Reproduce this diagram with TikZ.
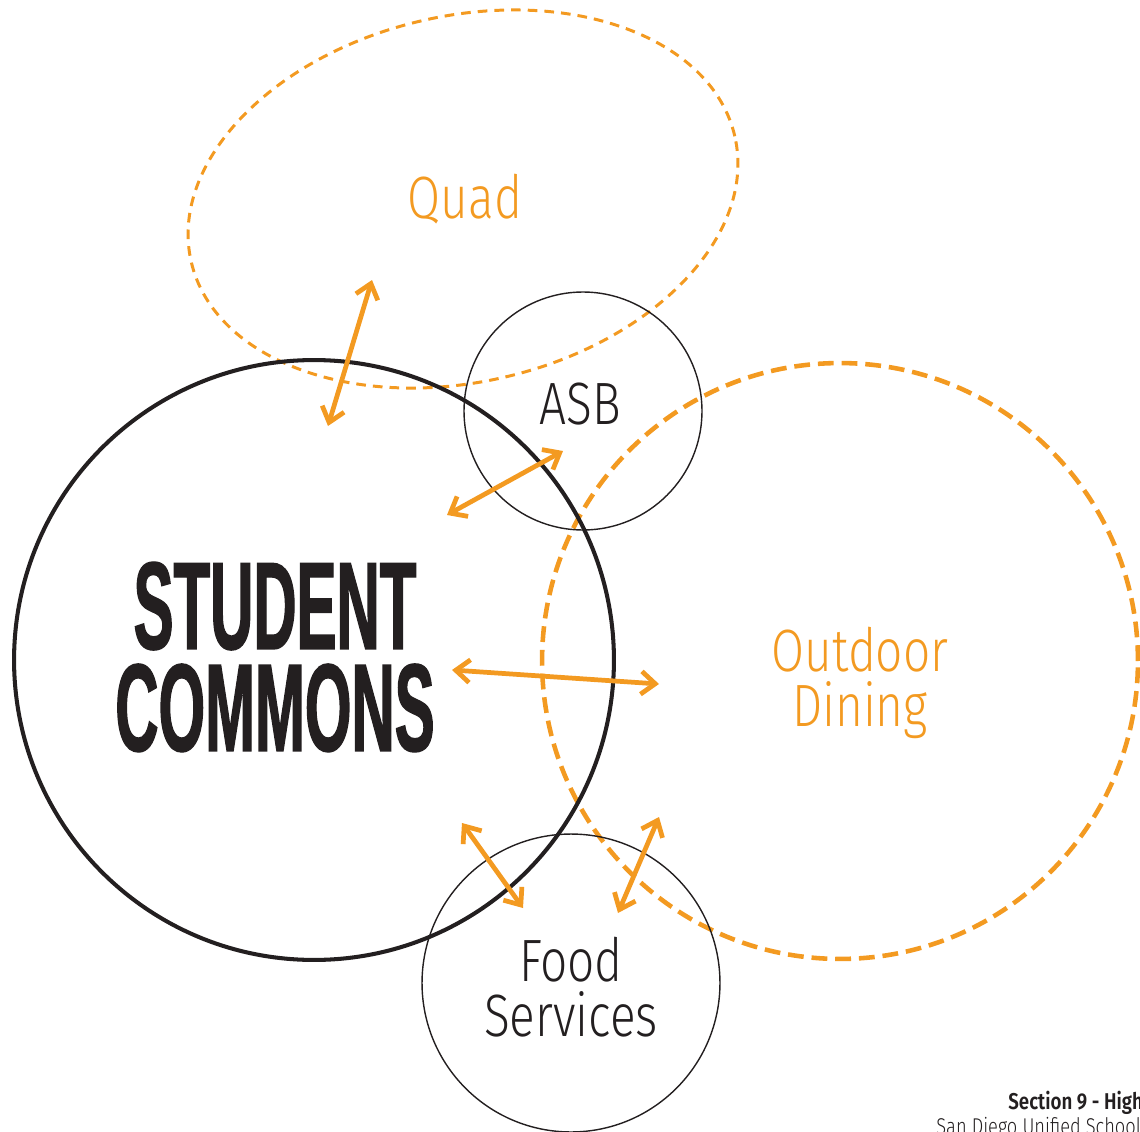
\documentclass[tikz,border=0pt]{standalone}
\usepackage{fontspec}
\setmainfont{Fira Sans}
\newfontfamily\lightfont{Fira Sans Light}[FakeStretch=0.8]
\newfontfamily\footboldfont{Fira Sans SemiBold}[FakeStretch=0.82]
\newfontfamily\commonsfont{Liberation Sans Bold}[FakeStretch=0.48, FakeBold=1]
\usepackage{tikz}
\usetikzlibrary{arrows.meta}
\usetikzlibrary{shapes.geometric}
\definecolor{zoneorange}{HTML}{F39A21}
\definecolor{roomblack}{HTML}{231F20}

\begin{document}
\begin{tikzpicture}[x=0.02cm, y=-0.02cm,
    zone/.style={draw=zoneorange, line width=1.7pt, dash pattern=on 5.5pt off 4pt},
    room/.style={circle, draw=roomblack, line width=0.8pt, inner sep=0pt},
    zonetext/.style={text=zoneorange, font=\lightfont\fontsize{34}{31}\selectfont, align=center},
    roomtext/.style={text=roomblack, font=\lightfont\fontsize{34}{31}\selectfont, align=center},
    link/.style={zoneorange, line width=2.7pt, {Straight Barb[length=8pt,width=13pt]}-{Straight Barb[length=8pt,width=13pt]}}]
    \useasboundingbox (0,0) rectangle (1140,1132);
    \clip (0,0) rectangle (1140,1132);

    % Outside zones (dashed)
    \node[zone, ellipse, rotate=13, minimum width=11.16cm, minimum height=7.32cm] (quad) at (463,199) {};
    \node[zone, circle, line width=2.6pt, dash pattern=on 9pt off 4.5pt, minimum size=11.92cm] (dining) at (840,661) {};

    % Rooms
    \node[room, line width=2.3pt, minimum size=12cm] (commons) at (314,660) {};
    \node[room, minimum size=4.76cm] (asb) at (583,411) {};
    \node[room, minimum size=5.96cm] (food) at (571,983) {};

    % Labels
    \node[zonetext] (quadlabel) at (465,199) {Quad};
    \node[zonetext] (dininglabel) at (860,683) {Outdoor\\Dining};
    \node[roomtext] (asblabel) at (580,404) {ASB};
    \node[roomtext] (foodlabel) at (571,987) {Food\\Services};
    \node[text=roomblack, font=\commonsfont\fontsize{71}{58}\selectfont, align=center] (commonslabel) at (275,657) {STUDENT\\COMMONS};

    % Arrow ends
    \coordinate (qa) at (372,280);  \coordinate (qb) at (328,426);
    \coordinate (aa) at (563,451);  \coordinate (ab) at (447,515);
    \coordinate (da) at (452,670);  \coordinate (db) at (659,684);
    \coordinate (fa) at (462,823);  \coordinate (fb) at (523,908);
    \coordinate (ga) at (659,817);  \coordinate (gb) at (618,913);
    \draw[link] (qa) -- (qb); % quad - commons
    \draw[link] (aa) -- (ab); % asb - commons
    \draw[link] (da) -- (db); % commons - dining
    \draw[link] (fa) -- (fb); % commons - food
    \draw[link] (ga) -- (gb); % dining - food

    % Footer
    \node[anchor=base west, text=roomblack, font=\footboldfont\fontsize{13}{15}\selectfont, inner sep=0pt] (section) at (1008,1109) {Section 9 - High};
    \node[anchor=base west, text=roomblack, font=\lightfont\fontsize{13}{15}\selectfont, inner sep=0pt] (district) at (936,1134) {San Diego Unified School};
\end{tikzpicture}
\end{document}
